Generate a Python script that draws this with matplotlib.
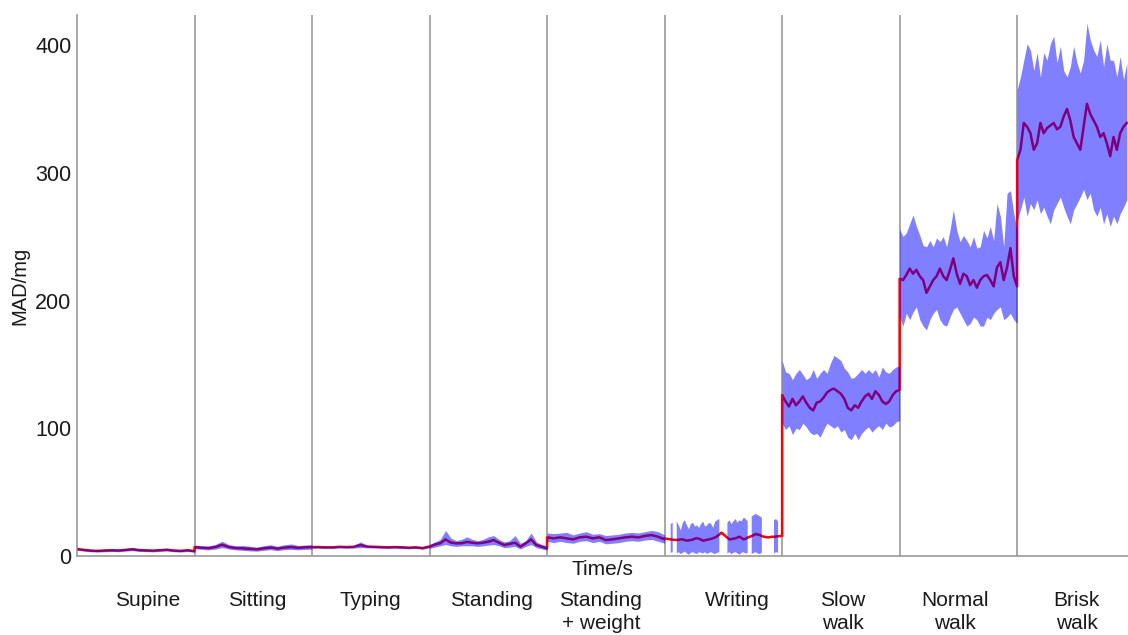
import numpy as np
import matplotlib
matplotlib.use("Agg")
import matplotlib.pyplot as plt

plt.rcParams['font.family'] = ['Liberation Sans', 'DejaVu Sans']

# activities (each recorded for 60 s, the last one is cut off at the right edge)
activities = ['Supine', 'Sitting', 'Typing', 'Standing', 'Standing\n+ weight',
              'Writing', 'Slow\nwalk', 'Normal\nwalk', 'Brisk\nwalk']
seg_dur = [60, 60, 60, 60, 60, 60, 60, 60, 56]
x_end = 536.6

nan = np.nan

# MAD mean and band (upper / lower) for each activity, in mg
supine_mean = [5.5, 4.8, 4.2, 4.0, 4.3, 4.5, 4.3, 4.8, 5.3, 4.6, 4.4, 4.2, 4.6, 4.9, 4.3, 4.0, 4.5, 3.8]
supine_upper = [6.5, 5.8, 5.2, 5.0, 5.4, 5.6, 5.4, 5.9, 6.6, 5.7, 5.4, 5.2, 5.7, 6.0, 5.3, 5.0, 5.6, 4.8]
supine_lower = [4.5, 3.8, 3.3, 3.1, 3.3, 3.5, 3.3, 3.8, 4.2, 3.6, 3.4, 3.2, 3.6, 3.9, 3.3, 3.1, 3.5, 2.9]

sitting_mean = [7.0, 6.5, 6.2, 7.0, 8.8, 7.0, 6.2, 6.0, 5.6, 5.2, 6.0, 6.6, 5.8, 6.6, 7.0, 6.4, 6.8, 7.0]
sitting_upper = [8.5, 8.0, 7.8, 9.0, 11.5, 8.8, 8.0, 8.2, 7.6, 7.0, 8.0, 8.8, 7.6, 8.8, 9.4, 8.2, 8.6, 8.8]
sitting_lower = [5.6, 5.2, 4.8, 5.4, 6.6, 5.4, 4.8, 4.4, 4.0, 3.8, 4.4, 5.0, 4.2, 5.0, 5.2, 4.8, 5.2, 5.4]

typing_mean = [7.0, 7.0, 6.8, 6.8, 7.2, 7.0, 7.2, 8.6, 7.4, 7.2, 7.0, 6.8, 7.0, 6.8, 6.5, 6.8, 6.2, 7.5]
typing_upper = [7.9, 7.9, 7.7, 7.7, 8.1, 7.9, 8.3, 11.0, 8.4, 8.1, 7.9, 7.7, 7.9, 7.8, 7.4, 7.7, 7.2, 8.4]
typing_lower = [6.1, 6.1, 5.9, 5.9, 6.3, 6.1, 6.2, 6.6, 6.4, 6.3, 6.1, 5.9, 6.1, 5.8, 5.6, 5.9, 5.3, 6.6]

standing_mean = [7.3, 9.0, 10.0, 13.0, 10.5, 9.9, 10.0, 11.0, 10.4, 9.9, 10.4, 11.2,
                 12.5, 10.4, 8.6, 9.5, 10.4, 7.3, 9.9, 13.0, 8.6, 7.3, 6.0]
standing_upper = [9, 11, 13, 20, 14, 12, 13, 15, 13, 12, 13, 15,
                  16, 13, 11, 12, 16, 10, 12, 18, 11, 9, 8]
standing_lower = [6, 7, 8, 9, 8, 7.5, 8, 8, 8, 7.5, 8, 8.5,
                  9, 8, 6.5, 7, 7.5, 5.5, 7.5, 9, 6.5, 5.5, 4.5]

weight_mean = [14.6, 13.8, 14.6, 13.8, 13.0, 14.6, 15.1, 13.8, 14.6, 12.5,
               13.0, 13.8, 14.6, 15.1, 14.6, 15.7, 16.4, 15.1, 13.0]
weight_upper = [18, 17.5, 18, 18.5, 16.5, 18, 19, 17, 17.5, 16,
                16.5, 17, 18, 18.5, 18, 19, 20, 19, 16.5]
weight_lower = [11.5, 10.5, 11.5, 10.5, 10, 11.5, 12, 10.5, 11.5, 9.5,
                10, 10.5, 11.5, 12, 11.5, 12.5, 13, 11.5, 10]

writing_mean = [13.8, 13.5, 13.2, 13.0, 12.8, 12.6, 12.5, 12.7, 13.0, 13.0, 12.4, 12.0,
                12.3, 12.5, 13.0, 13.6, 13.8, 13.5, 12.8, 12.0, 12.3, 12.8, 13.0, 13.4,
                14.0, 14.6, 15.5, 16.8, 18.3, 17.0, 15.7, 14.3, 13.0, 13.2, 13.6, 13.8,
                14.5, 15.1, 14.0, 13.0, 13.6, 14.4, 15.1, 15.6, 16.4, 17.2, 16.8, 16.4,
                15.6, 15.1, 14.8, 14.6, 14.8, 15.1, 15.0, 15.3, 15.4, 15.6, 15.7]
writing_upper = [nan, nan, nan, 25, 26, nan, 27, 24, 20, 26, 28, 24,
                 21, 25, 26, 23, 24, 22, 25, 27, 23, 24, 26, 25,
                 22, 27, 28, 29, nan, nan, nan, 26, 28, 25, 27, 29,
                 26, 28, 27, 30, 29, 27, nan, 31, 32, 33, 32, 31,
                 30, nan, nan, nan, nan, nan, 28, 29, 27, nan, nan]
writing_lower = [nan, nan, nan, 2.5, 3, nan, 2, 3, 1.5, 2.5, 3.5, 2,
                 1, 2.5, 3, 2, 1.5, 3, 2.5, 2, 3, 1.5, 2.5, 3,
                 2, 1.5, 2.5, 3, nan, nan, nan, 2, 3, 1.5, 2.5, 3,
                 2, 1, 2.5, 3, 2, 2.5, nan, 1.5, 2.5, 3, 2, 1.5,
                 2.5, nan, nan, nan, nan, nan, 2, 3, 2.5, nan, nan]

slow_mean = [126, 121, 117, 123, 118, 121, 125, 120, 116, 114, 120, 121, 124, 128, 130, 131, 129, 127,
             123, 116, 114, 118, 116, 121, 125, 127, 123, 129, 126, 121, 119, 121, 126, 129, 130]
slow_upper = [153, 144, 143, 138, 143, 146, 142, 138, 140, 146, 139, 143, 146, 143, 151, 157, 155, 153,
              147, 144, 139, 140, 143, 146, 143, 146, 143, 146, 140, 148, 144, 143, 146, 148, 149]
slow_lower = [104, 99, 102, 95, 100, 99, 104, 101, 97, 95, 96, 93, 99, 104, 102, 100, 102, 97,
              99, 93, 91, 96, 91, 96, 99, 101, 97, 100, 102, 99, 104, 101, 102, 105, 106]

normal_mean = [217, 216, 220, 225, 221, 224, 219, 216, 206, 211, 216, 219, 225, 219, 216, 224, 233, 221,
               213, 221, 219, 212, 216, 210, 216, 219, 220, 216, 211, 226, 230, 216, 226, 241, 219, 211]
normal_upper = [256, 250, 253, 260, 267, 258, 251, 243, 242, 247, 242, 249, 246, 250, 242, 255, 271, 255,
                246, 251, 247, 242, 250, 241, 242, 255, 249, 258, 247, 276, 266, 242, 284, 286, 268, 255]
normal_lower = [187, 180, 190, 185, 191, 195, 185, 180, 177, 185, 190, 193, 185, 181, 180, 187, 193, 195,
                190, 185, 180, 182, 187, 185, 180, 180, 187, 185, 190, 193, 195, 185, 187, 190, 185, 182]

brisk_mean = [310, 318, 339, 336, 331, 318, 323, 339, 331, 335, 337, 339, 334, 336, 344, 350, 341,
              328, 323, 318, 336, 354, 346, 341, 336, 328, 331, 323, 313, 328, 318, 331, 336, 339]
brisk_upper = [365, 375, 388, 401, 396, 380, 394, 375, 394, 388, 401, 407, 386, 399, 380, 375, 383,
               399, 386, 378, 388, 417, 404, 396, 391, 404, 383, 401, 388, 388, 375, 391, 373, 386]
brisk_lower = [262, 271, 281, 266, 276, 271, 279, 268, 273, 266, 260, 271, 276, 281, 273, 266, 260,
               271, 276, 281, 287, 279, 284, 271, 266, 273, 260, 268, 258, 266, 260, 268, 273, 279]

means = [supine_mean, sitting_mean, typing_mean, standing_mean, weight_mean,
         writing_mean, slow_mean, normal_mean, brisk_mean]
uppers = [supine_upper, sitting_upper, typing_upper, standing_upper, weight_upper,
          writing_upper, slow_upper, normal_upper, brisk_upper]
lowers = [supine_lower, sitting_lower, typing_lower, standing_lower, weight_lower,
          writing_lower, slow_lower, normal_lower, brisk_lower]

# small nudges of the activity names (seconds), as in the original
label_dx = [6, 2, -0.5, 1.5, -2.5, 7, 1, -1.5, 0.5]

fig = plt.figure(figsize=(11.28, 6.35), dpi=100)
ax = fig.add_axes([77 / 1128, 79 / 635, 1 - 77 / 1128, 541 / 635])

starts = np.concatenate([[0], np.cumsum(seg_dur)[:-1]])
all_t = []
all_m = []
for s, d, m, up, lo in zip(starts, seg_dur, means, uppers, lowers):
    t = np.linspace(s, s + d, len(m))
    all_t.append(t)
    all_m.append(m)
    ax.fill_between(t, np.array(lo, float), np.array(up, float),
                    color='blue', alpha=0.5, lw=0, zorder=3)

ax.plot(np.concatenate(all_t), np.concatenate(all_m), color='red', lw=1.8, zorder=2)

for b in starts[1:]:
    ax.axvline(b, color='#999999', lw=1.2, zorder=1)

ax.set_xlim(0, x_end)
ax.set_ylim(0, 423.5)
ax.set_yticks([0, 100, 200, 300, 400])
ax.set_xticks([])
ax.tick_params(axis='y', length=0, pad=4, labelsize=15.5, labelcolor='#1a1a1a')
for sp in ['top', 'right']:
    ax.spines[sp].set_visible(False)
for sp in ['left', 'bottom']:
    ax.spines[sp].set_color('#999999')
    ax.spines[sp].set_linewidth(1.2)

ax.set_ylabel('MAD/mg', fontsize=14.5, color='#1a1a1a', labelpad=4)
ax.set_xlabel('Time/s', fontsize=15, color='#1a1a1a', labelpad=3)

for s, d, name, dx in zip(starts, [60] * 9, activities, label_dx):
    ax.text(s + d / 2 + dx, -0.064, name, transform=ax.get_xaxis_transform(),
            ha='center', va='top', fontsize=15, color='#1a1a1a', linespacing=1.32)

fig.savefig('out.png', dpi=100)
